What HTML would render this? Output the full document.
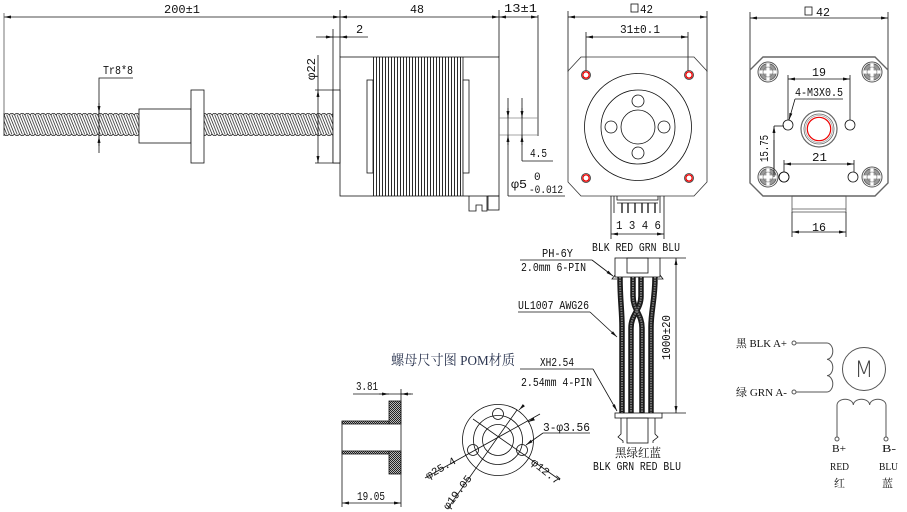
<!DOCTYPE html>
<html><head><meta charset="utf-8"><style>
html,body{margin:0;padding:0;background:#fff;}
svg{display:block}
text{font-family:"Liberation Mono","Noto Serif CJK SC",monospace;font-size:12px;fill:#111}
.s{font-family:"Liberation Serif","Noto Serif CJK SC",serif}
.cj{font-family:"Liberation Serif","Noto Serif CJK SC",serif}
</style></head><body>
<svg width="907" height="512" viewBox="0 0 907 512" xmlns="http://www.w3.org/2000/svg">
<defs>
<marker id="ar" viewBox="0 0 8 4" refX="8" refY="2" markerWidth="7" markerHeight="3.5" markerUnits="userSpaceOnUse" orient="auto-start-reverse"><path d="M0,0.3L8,2L0,3.7z" fill="#111"/></marker>
<pattern id="thr" x="4" y="113" width="5.2" height="23" patternUnits="userSpaceOnUse">
 <path d="M-7.8,1.5L0.2,21.5M-5.2,1.5L2.8,21.5M-2.6,1.5L5.4,21.5M0,1.5L8,21.5M2.6,1.5L10.6,21.5M5.2,1.5L13.2,21.5" stroke="#222" stroke-width="0.75" fill="none"/>
 <path d="M0,2 Q2.6,-1.5 5.2,2 M0,21 Q2.6,24.5 5.2,21" stroke="#222" stroke-width="0.8" fill="none"/>
</pattern>
<pattern id="vl" x="373" y="0" width="3" height="10" patternUnits="userSpaceOnUse"><line x1="0.5" y1="0" x2="0.5" y2="10" stroke="#111" stroke-width="0.9"/></pattern>
<pattern id="hx" width="2" height="2" patternUnits="userSpaceOnUse"><rect width="2" height="2" fill="#bbb"/><rect width="1" height="1" fill="#222"/><rect x="1" y="1" width="1" height="1" fill="#222"/></pattern>
<g id="scr">
 <circle r="10" fill="#fff" stroke="#555" stroke-width="1"/>
 <circle r="8.3" fill="#999" stroke="#555" stroke-width="0.8"/>
 <rect x="-1.6" y="-8.6" width="3.2" height="17.2" fill="#fff"/>
 <rect x="-8.6" y="-1.6" width="17.2" height="3.2" fill="#fff"/>
 <circle r="5" fill="none" stroke="#777" stroke-width="0.6"/>
</g>
</defs>

<g stroke="#111" stroke-width="0.8" fill="none">
<!-- ===== Lead screw ===== -->
<rect x="4" y="113" width="135" height="23" fill="url(#thr)" stroke="none"/>
<rect x="204" y="113" width="129" height="23" fill="url(#thr)" stroke="none"/>
<line x1="4" y1="113" x2="4" y2="136"/>
<rect x="139" y="109" width="52" height="34" fill="#fff"/>
<rect x="191" y="90" width="13" height="73" fill="#fff"/>

<!-- 200 dim -->
<line x1="4" y1="17" x2="340" y2="17" marker-start="url(#ar)" marker-end="url(#ar)"/>
<line x1="4" y1="13" x2="4" y2="113" stroke="#555"/>
<!-- Tr8*8 -->
<polyline points="133,78 99,78 99,153"/>
<line x1="99" y1="103" x2="99" y2="113" marker-end="url(#ar)"/>
<line x1="99" y1="146" x2="99" y2="136" marker-end="url(#ar)"/>
<!-- phi22 -->
<line x1="318" y1="55" x2="318" y2="90"/>
<line x1="318" y1="90" x2="318" y2="163" marker-start="url(#ar)" marker-end="url(#ar)"/>
<line x1="315" y1="90" x2="333" y2="90"/>
<line x1="315" y1="163" x2="340" y2="163"/>
<!-- 2 dim -->
<line x1="316" y1="37" x2="368" y2="37"/>
<line x1="325" y1="37" x2="333" y2="37" marker-end="url(#ar)"/>
<line x1="348" y1="37" x2="340" y2="37" marker-end="url(#ar)"/>
<line x1="333" y1="29" x2="333" y2="163"/>
<line x1="340" y1="10" x2="340" y2="57"/>

<!-- ===== Motor side ===== -->
<rect x="340" y="57" width="159" height="139" fill="#fff"/>
<rect x="333" y="90" width="7" height="73" fill="#fff"/>
<rect x="373" y="57" width="90" height="139" fill="url(#vl)" stroke="none"/>
<line x1="463" y1="57" x2="463" y2="196"/>
<rect x="367" y="80" width="6" height="93" fill="#fff"/>
<rect x="463" y="80" width="6" height="93" fill="#fff"/>
<path d="M469,196 V211 H476 V205 H482 V211 H487 V196"/>
<rect x="488" y="196" width="11" height="14"/>
<!-- 48 / 13 dims -->
<line x1="340" y1="17" x2="499" y2="17" marker-start="url(#ar)" marker-end="url(#ar)"/>
<line x1="499" y1="17" x2="538" y2="17" marker-start="url(#ar)" marker-end="url(#ar)"/>
<line x1="499" y1="10" x2="499" y2="57"/>
<line x1="538" y1="15" x2="538" y2="136"/>
<line x1="499" y1="118" x2="538" y2="118" stroke="#888"/>
<line x1="499" y1="135" x2="538" y2="135" stroke="#888"/>
<!-- 4.5 / phi5 -->
<line x1="508" y1="98" x2="508" y2="196"/>
<line x1="522" y1="98" x2="522" y2="161"/>
<line x1="522" y1="161" x2="553" y2="161"/>
<line x1="508" y1="196" x2="565" y2="196"/>
<line x1="508" y1="108" x2="508" y2="118" marker-end="url(#ar)"/>
<line x1="508" y1="145" x2="508" y2="135" marker-end="url(#ar)"/>
<line x1="522" y1="108" x2="522" y2="118" marker-end="url(#ar)"/>
<line x1="522" y1="145" x2="522" y2="135" marker-end="url(#ar)"/>

<!-- ===== Front view ===== -->
<line x1="568" y1="17" x2="707" y2="17" marker-start="url(#ar)" marker-end="url(#ar)"/>
<line x1="568" y1="11" x2="568" y2="72"/>
<line x1="707" y1="11" x2="707" y2="72"/>
<line x1="586" y1="37" x2="688" y2="37" marker-start="url(#ar)" marker-end="url(#ar)"/>
<line x1="586" y1="32" x2="586" y2="71"/>
<line x1="688" y1="32" x2="688" y2="71"/>
<rect x="631" y="4" width="7" height="8"/>
<path d="M581,57 H694 L707,71 V182 L694,196 H581 L568,182 V71 Z" stroke="#333"/>
<circle cx="638" cy="127" r="53.5"/>
<circle cx="638" cy="127" r="37"/>
<circle cx="638" cy="127" r="17"/>
<circle cx="638" cy="101" r="6"/>
<circle cx="638" cy="153" r="6"/>
<circle cx="611" cy="127" r="6"/>
<circle cx="664" cy="127" r="6"/>
<g>
 <circle cx="586" cy="75" r="4.5" stroke="#333"/><circle cx="586" cy="75" r="3.2" stroke="#e00" stroke-width="1.4"/>
 <circle cx="689" cy="75" r="4.5" stroke="#333"/><circle cx="689" cy="75" r="3.2" stroke="#e00" stroke-width="1.4"/>
 <circle cx="586" cy="178" r="4.5" stroke="#333"/><circle cx="586" cy="178" r="3.2" stroke="#e00" stroke-width="1.4"/>
 <circle cx="689" cy="178" r="4.5" stroke="#333"/><circle cx="689" cy="178" r="3.2" stroke="#e00" stroke-width="1.4"/>
</g>
<!-- connector -->
<path d="M611,196 V213 M614,196 V213 M660,196 V213 M664,196 V213 M617,196 V200 H658 V196 M617,203 H658"/>
<path d="M622,203 V213 M628,203 V213 M635,203 V213 M642,203 V213 M648,203 V213 M655,203 V213" stroke-width="1.3"/>
<line x1="611" y1="234" x2="664" y2="234" marker-start="url(#ar)" marker-end="url(#ar)"/>
<line x1="611" y1="213" x2="611" y2="239"/>
<line x1="664" y1="213" x2="664" y2="239"/>

<!-- ===== Back view ===== -->
<line x1="750" y1="18" x2="888" y2="18" marker-start="url(#ar)" marker-end="url(#ar)"/>
<line x1="750" y1="12" x2="750" y2="70"/>
<line x1="888" y1="12" x2="888" y2="70"/>
<rect x="805" y="7" width="7" height="8"/>
<path d="M763,57 H875 L888,70 V183 L875,196 H763 L750,183 V70 Z" stroke="#666" stroke-width="1.4"/>
<rect x="792" y="196" width="54" height="16" stroke="#555"/>
<line x1="792" y1="209" x2="846" y2="209" stroke="#555"/>
<line x1="792" y1="232" x2="846" y2="232" marker-start="url(#ar)" marker-end="url(#ar)"/>
<line x1="792" y1="212" x2="792" y2="237"/>
<line x1="846" y1="212" x2="846" y2="237"/>
<circle cx="788" cy="125" r="5"/>
<circle cx="850" cy="125" r="5"/>
<circle cx="784" cy="177" r="5"/>
<circle cx="853" cy="177" r="5"/>
<circle cx="819" cy="129" r="18" stroke="#666" stroke-width="1.2"/>
<circle cx="819" cy="129" r="15" stroke="#666"/>
<circle cx="819" cy="129" r="13.5" stroke="#aaa"/>
<circle cx="819" cy="129" r="11.7" stroke="#e00" stroke-width="1.2"/>
<!-- 19 -->
<line x1="788" y1="79" x2="850" y2="79" marker-start="url(#ar)" marker-end="url(#ar)"/>
<line x1="788" y1="75" x2="788" y2="120"/>
<line x1="850" y1="75" x2="850" y2="120"/>
<!-- 4-M3 -->
<line x1="795" y1="99" x2="843" y2="99"/>
<line x1="795" y1="99" x2="789" y2="120" marker-end="url(#ar)"/>
<!-- 15.75 -->
<line x1="774" y1="126" x2="774" y2="177" marker-start="url(#ar)" marker-end="url(#ar)"/>
<line x1="774" y1="126" x2="784" y2="126"/>
<!-- 21 -->
<line x1="784" y1="164" x2="854" y2="164" marker-start="url(#ar)" marker-end="url(#ar)"/>
<line x1="784" y1="160" x2="784" y2="172"/>
<line x1="854" y1="160" x2="854" y2="172"/>
</g>
<use href="#scr" x="768" y="72"/>
<use href="#scr" x="872" y="72"/>
<use href="#scr" x="768" y="177"/>
<use href="#scr" x="872" y="177"/>
<g stroke="#111" stroke-width="0.8" fill="none">
<line x1="774" y1="140" x2="774" y2="177"/>
<circle cx="784" cy="177" r="5"/>
</g>

<!-- ===== Cable ===== -->
<g stroke="#111" stroke-width="0.8" fill="none">
<rect x="615" y="258" width="45" height="19" fill="#fff"/>
<rect x="627" y="258" width="21" height="15"/>
<path d="M615,275 L612,279 L617,279 M660,275 L663,279 L658,279"/>
<line x1="660" y1="258" x2="686" y2="258"/>
<line x1="662" y1="413" x2="686" y2="413"/>
<line x1="676" y1="258" x2="676" y2="413" marker-start="url(#ar)" marker-end="url(#ar)"/>
<!-- leaders -->
<line x1="520" y1="260" x2="592" y2="260"/>
<line x1="592" y1="260" x2="613" y2="276" marker-end="url(#ar)"/>
<line x1="518" y1="312" x2="590" y2="312"/>
<line x1="590" y1="312" x2="617" y2="337" marker-end="url(#ar)"/>
<line x1="520" y1="369" x2="593" y2="369"/>
<line x1="593" y1="369" x2="617" y2="411" marker-end="url(#ar)"/>
</g>
<g fill="none" stroke-linecap="butt">
<g stroke="#1a1a1a" stroke-width="5.5">
 <path d="M620,277 C620,300 622,310 622,327 L622,413"/>
 <path d="M655,277 C655,300 651,310 651,327 L651,413"/>
 <path d="M633,277 L633,296 C633,310 642,314 642,328 L642,413"/>
 <path d="M641,277 L641,296 C641,310 631,314 631,328 L631,413"/>
</g>
<g stroke="#7a7a7a" stroke-width="2" stroke-dasharray="1.5,1">
 <path d="M620,277 C620,300 622,310 622,327 L622,413"/>
 <path d="M655,277 C655,300 651,310 651,327 L651,413"/>
 <path d="M633,277 L633,296 C633,310 642,314 642,328 L642,413"/>
 <path d="M641,277 L641,296 C641,310 631,314 631,328 L631,413"/>
</g>
</g>
<g stroke="#111" stroke-width="0.8" fill="none">
<rect x="615" y="413" width="47" height="5" fill="#fff"/>
<path d="M621,418 V434 L618,437 L623,441 V443 M655,418 V434 L658,437 L653,441 V443"/>
<rect x="627" y="418" width="21" height="25"/>
</g>

<!-- ===== Nut section ===== -->
<g stroke="#111" stroke-width="0.8">
<rect x="389" y="401" width="12" height="23" fill="url(#hx)"/>
<rect x="342" y="421" width="47" height="3" fill="url(#hx)"/>
<rect x="342" y="451" width="47" height="3" fill="url(#hx)"/>
<rect x="389" y="451" width="12" height="23" fill="url(#hx)"/>
<g fill="none">
<line x1="342" y1="421" x2="342" y2="507"/>
<line x1="401" y1="389" x2="401" y2="507"/>
<line x1="353" y1="394" x2="413" y2="394"/>
<line x1="379" y1="394" x2="389" y2="394" marker-end="url(#ar)"/>
<line x1="411" y1="394" x2="401" y2="394" marker-end="url(#ar)"/>
<line x1="342" y1="503" x2="401" y2="503" marker-start="url(#ar)" marker-end="url(#ar)"/>
</g>
</g>

<!-- ===== Nut front ===== -->
<g stroke="#111" stroke-width="0.8" fill="none">
<circle cx="498" cy="440" r="35.5"/>
<circle cx="498" cy="440" r="24.5"/>
<circle cx="498" cy="440" r="15.5"/>
<circle cx="498" cy="414" r="5.5"/>
<circle cx="473" cy="450" r="5.5"/>
<circle cx="522" cy="450" r="5.5"/>
<line x1="540" y1="414" x2="425" y2="478"/>
<line x1="473" y1="419" x2="560" y2="480"/>
<line x1="517" y1="410" x2="448" y2="508"/>
<line x1="543" y1="433" x2="590" y2="433"/>
<line x1="543" y1="433" x2="526" y2="445" marker-end="url(#ar)"/>
<line x1="530" y1="421" x2="528" y2="422" marker-end="url(#ar)"/>
<line x1="520" y1="409" x2="519" y2="410" marker-end="url(#ar)"/>
</g>

<!-- ===== Schematic ===== -->
<g stroke="#555" stroke-width="1" fill="none">
<circle cx="794" cy="343" r="2"/>
<circle cx="794" cy="392" r="2"/>
<path d="M796,343 H827 a6,8.17 0 0 1 0,16.33 a6,8.17 0 0 1 0,16.33 a6,8.17 0 0 1 0,16.33 H796"/>
<circle cx="864" cy="369" r="21.5"/>
<path d="M837,437 V405 a8.17,6 0 0 1 16.33,0 a8.17,6 0 0 1 16.33,0 a8.17,6 0 0 1 16.33,0 V437"/>
<circle cx="837" cy="439" r="2"/>
<circle cx="886" cy="439" r="2"/>
</g>

<!-- ===== Texts ===== -->
<text x="164" y="13" textLength="36" lengthAdjust="spacingAndGlyphs">200±1</text>
<text x="103" y="74" textLength="30" lengthAdjust="spacingAndGlyphs">Tr8*8</text>
<text transform="translate(315,80) rotate(-90)" x="0" y="0" textLength="22" lengthAdjust="spacingAndGlyphs">φ22</text>
<text x="356" y="33">2</text>
<text x="410" y="13" textLength="14" lengthAdjust="spacingAndGlyphs">48</text>
<text x="504" y="12" textLength="33" lengthAdjust="spacingAndGlyphs">13±1</text>
<text x="530" y="157" textLength="17" lengthAdjust="spacingAndGlyphs">4.5</text>
<text x="511" y="188" textLength="16" lengthAdjust="spacingAndGlyphs">φ5</text>
<text x="534" y="180" style="font-size:11px">0</text>
<text x="529" y="193" textLength="34" lengthAdjust="spacingAndGlyphs" style="font-size:11px">-0.012</text>

<text x="640" y="13" textLength="13" lengthAdjust="spacingAndGlyphs">42</text>
<text x="620" y="33" textLength="40" lengthAdjust="spacingAndGlyphs">31±0.1</text>
<text x="616" y="229" textLength="45" lengthAdjust="spacingAndGlyphs">1 3 4 6</text>

<text x="816" y="16" textLength="14" lengthAdjust="spacingAndGlyphs">42</text>
<text x="812" y="76" textLength="14" lengthAdjust="spacingAndGlyphs">19</text>
<text x="795" y="96" textLength="48" lengthAdjust="spacingAndGlyphs">4-M3X0.5</text>
<text transform="translate(768,162) rotate(-90)" x="0" y="0" textLength="27" lengthAdjust="spacingAndGlyphs">15.75</text>
<text x="812" y="161" textLength="15" lengthAdjust="spacingAndGlyphs">21</text>
<text x="812" y="231" textLength="14" lengthAdjust="spacingAndGlyphs">16</text>

<text x="592" y="251" textLength="88" lengthAdjust="spacingAndGlyphs">BLK RED GRN BLU</text>
<text x="542" y="257" textLength="31" lengthAdjust="spacingAndGlyphs">PH-6Y</text>
<text x="521" y="271" textLength="65" lengthAdjust="spacingAndGlyphs">2.0mm 6-PIN</text>
<text x="518" y="309" textLength="71" lengthAdjust="spacingAndGlyphs">UL1007 AWG26</text>
<text x="540" y="366" textLength="34" lengthAdjust="spacingAndGlyphs">XH2.54</text>
<text x="521" y="386" textLength="71" lengthAdjust="spacingAndGlyphs">2.54mm 4-PIN</text>
<text transform="translate(670,360) rotate(-90)" x="0" y="0" textLength="45" lengthAdjust="spacingAndGlyphs">1000±20</text>
<text class="cj" x="615" y="457" textLength="46" lengthAdjust="spacingAndGlyphs">黑绿红蓝</text>
<text x="593" y="470" textLength="88" lengthAdjust="spacingAndGlyphs">BLK GRN RED BLU</text>

<text class="cj" x="391" y="365" textLength="124" lengthAdjust="spacingAndGlyphs" style="font-size:14px;fill:#2b3550">螺母尺寸图 POM材质</text>
<text x="356" y="390" textLength="22" lengthAdjust="spacingAndGlyphs">3.81</text>
<text x="357" y="500" textLength="28" lengthAdjust="spacingAndGlyphs">19.05</text>
<text x="543" y="431" textLength="47" lengthAdjust="spacingAndGlyphs">3-φ3.56</text>
<text transform="translate(440,468) rotate(-30)" x="-16" y="4" textLength="33" lengthAdjust="spacingAndGlyphs" style="font-size:11px">φ25.4</text>
<text transform="translate(457,492) rotate(-53)" x="-20" y="4" textLength="40" lengthAdjust="spacingAndGlyphs" style="font-size:11px">φ19.05</text>
<text transform="translate(546,471) rotate(39)" x="-17" y="4" textLength="34" lengthAdjust="spacingAndGlyphs" style="font-size:11px">φ12.7</text>

<text class="s" x="736" y="347" textLength="51" lengthAdjust="spacingAndGlyphs" style="font-size:11px">黑 BLK A+</text>
<text class="s" x="736" y="396" textLength="51" lengthAdjust="spacingAndGlyphs" style="font-size:11px">绿 GRN A-</text>
<text x="864" y="377" text-anchor="middle" style="font-family:'DejaVu Sans','Liberation Sans',sans-serif;font-size:22px;font-weight:200;fill:#444">M</text>
<text class="s" x="832" y="452" textLength="14" lengthAdjust="spacingAndGlyphs" style="font-size:11px">B+</text>
<text class="s" x="830" y="470" textLength="19" lengthAdjust="spacingAndGlyphs" style="font-size:11px">RED</text>
<text class="cj" x="834" y="487" style="font-size:11px">红</text>
<text class="s" x="882" y="452" textLength="14" lengthAdjust="spacingAndGlyphs" style="font-size:11px">B-</text>
<text class="s" x="879" y="470" textLength="19" lengthAdjust="spacingAndGlyphs" style="font-size:11px">BLU</text>
<text class="cj" x="882" y="487" style="font-size:11px">蓝</text>
</svg>
</body></html>
